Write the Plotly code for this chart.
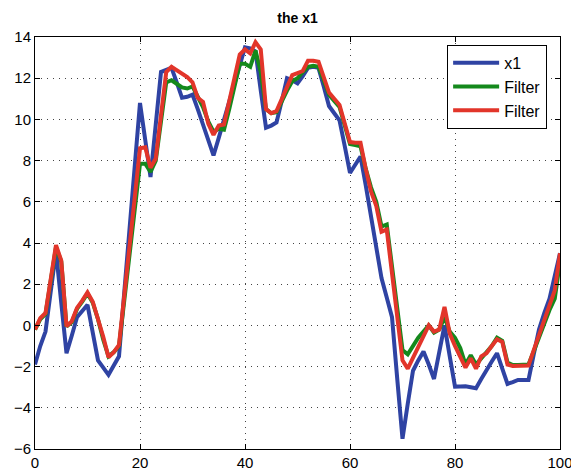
import plotly.graph_objects as go

x_vals = list(range(0, 101))

x1 = [-1.9, -1.0, -0.3, 1.65, 3.6, 1.1, -1.35, -0.5, 0.4, 0.7,
      1.0, -0.35, -1.7, -2.05, -2.4, -1.95, -1.5, 1.6, 4.7, 7.7,
      10.8, 9.0, 7.2, 9.75, 12.3, 12.4, 12.5, 11.8, 11.05, 11.1,
      11.2, 10.5, 9.75, 9.0, 8.25, 9.1, 10.0, 10.9, 11.8, 12.7,
      13.5, 13.45, 13.3, 11.4, 9.6, 9.7, 9.85, 10.9, 12.0, 11.9,
      11.75, 12.1, 12.5, 12.55, 12.5, 11.6, 10.65, 10.3, 9.95, 8.7,
      7.4, 7.8, 8.2, 6.8, 5.3, 3.8, 2.3, 1.35, 0.4, -2.6,
      -5.5, -3.8, -2.2, -1.7, -1.27, -1.9, -2.6, -1.3, 0.0, -1.5,
      -2.97, -2.96, -2.95, -3.0, -3.05, -2.6, -2.15, -1.75, -1.35, -2.1,
      -2.84, -2.75, -2.65, -2.65, -2.65, -1.4, -0.2, 0.6, 1.3, 2.4,
      3.5]

filter_a = [-0.2, 0.3, 0.55, 2.1, 3.8, 3.1, -0.05, 0.15, 0.8, 1.15,
            1.55, 1.1, 0.3, -0.7, -1.5, -1.3, -1.0, 1.2, 3.5, 5.7,
            7.85, 7.85, 7.45, 8.0, 9.9, 11.8, 11.9, 11.75, 11.55, 11.5,
            11.6, 11.1, 10.6, 9.9, 9.4, 9.55, 9.5, 10.5, 11.6, 12.7,
            12.7, 12.55, 13.35, 12.3, 10.5, 10.3, 10.35, 10.9, 11.4, 11.85,
            12.0, 12.3, 12.55, 12.6, 12.55, 11.9, 11.2, 10.9, 10.6, 9.7,
            8.8, 8.75, 8.7, 7.6, 6.7, 6.0, 4.8, 4.9, 2.8, 0.6,
            -1.2, -1.4, -1.0, -0.6, -0.3, 0.0, -0.35, -0.2, 0.4, -0.3,
            -0.6, -1.1, -1.9, -1.45, -1.9, -1.6, -1.35, -1.0, -0.6, -0.75,
            -1.8, -1.92, -1.92, -1.92, -1.9, -1.25, -0.55, 0.15, 0.75, 1.3,
            3.1]

filter_b = [-0.2, 0.35, 0.6, 2.25, 3.9, 3.15, -0.05, 0.2, 0.85, 1.2,
            1.6, 1.15, 0.35, -0.55, -1.55, -1.3, -0.95, 1.5, 4.0, 6.3,
            8.6, 8.65, 7.65, 8.1, 10.2, 12.3, 12.55, 12.4, 12.2, 12.05,
            11.8, 11.05, 10.85, 9.8, 9.25, 9.7, 9.75, 10.85, 12.0, 13.15,
            13.4, 13.2, 13.75, 13.4, 10.5, 10.3, 10.4, 11.0, 11.6, 12.15,
            12.25, 12.35, 12.85, 12.85, 12.8, 12.0, 11.3, 11.0, 10.7, 9.8,
            8.9, 8.87, 8.87, 7.6, 6.5, 5.8, 4.55, 4.65, 2.4, 0.2,
            -1.7, -2.1, -1.6, -1.1, -0.6, 0.0, -0.3, -0.2, 0.9, -0.4,
            -1.0, -1.5, -2.05, -1.6, -2.1, -1.5, -1.35, -1.0, -0.67, -0.8,
            -1.9, -1.97, -1.97, -1.97, -1.95, -1.2, -0.5, 0.3, 0.9, 1.7,
            3.5]

series_names = ["x1", "Filter", "Filter"]
series_colors = ["#2f43a3", "#14891c", "#e2352a"]

x_ticks = [0, 20, 40, 60, 80, 100]
y_ticks = [-6, -4, -2, 0, 2, 4, 6, 8, 10, 12, 14]

fig = go.Figure()
for ys, name, col in zip([x1, filter_a, filter_b], series_names, series_colors):
    fig.add_trace(go.Scatter(x=x_vals, y=ys, mode="lines", name=name,
                             line=dict(color=col, width=4)))

axis_common = dict(
    showline=True, linecolor="black", linewidth=1, mirror="ticks",
    ticks="inside", ticklen=5, tickcolor="black",
    showgrid=True, gridcolor="#444444", gridwidth=1, griddash="1px,5px",
    zeroline=False, automargin=False,
    tickfont=dict(family="Liberation Sans, Arial, sans-serif", size=15, color="black"),
)

fig.update_xaxes(range=[0, 100], tickvals=x_ticks, **axis_common)
fig.update_yaxes(range=[-6, 14], tickvals=y_ticks, **axis_common)

# page body has an 8px margin; figure sized so that it fills the 579x476 window
W, H = 571, 468
fig.update_layout(
    width=W, height=H,
    margin=dict(l=27, r=19, t=29, b=27, autoexpand=False),
    paper_bgcolor="white", plot_bgcolor="white",
    title=dict(text="<b>the x1</b>", x=(27 + 552) / 2 / W, xanchor="center",
               y=1 - 10 / H, yanchor="middle", yref="container",
               font=dict(family="Liberation Sans, Arial, sans-serif", size=14, color="black")),
    font=dict(family="Liberation Sans, Arial, sans-serif", color="black"),
    legend=dict(x=0.785, y=0.981, xanchor="left", yanchor="top",
                bgcolor="white", bordercolor="black", borderwidth=1,
                font=dict(size=16, color="black"),
                tracegroupgap=0, itemwidth=46),
    showlegend=True,
)

fig.write_html("out.html")
